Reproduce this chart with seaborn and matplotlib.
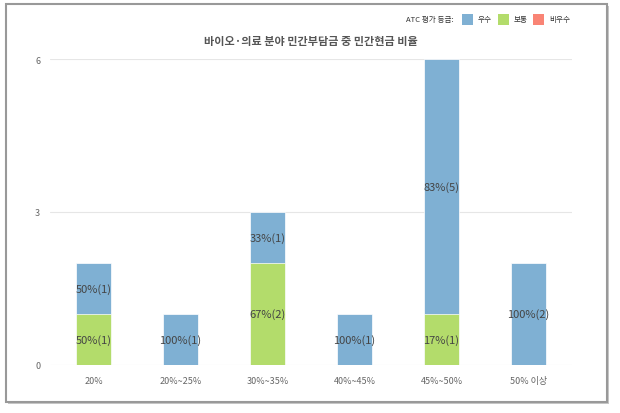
import matplotlib
matplotlib.use("Agg")
import matplotlib.pyplot as plt
import seaborn as sns
import pandas as pd
from matplotlib.patches import Rectangle

categories = ["20%", "20%~25%", "30%~35%", "40%~45%", "45%~50%", "50% 이상"]
excellent = [1, 1, 1, 1, 5, 2]   # 우수
normal = [1, 0, 2, 0, 1, 0]      # 보통
poor = [0, 0, 0, 0, 0, 0]        # 비우수
yticks = [0, 3, 6]
title = "바이오·의료 분야 민간부담금 중 민간현금 비율"
legend_title = "ATC 평가 등급:"
legend_labels = ["우수", "보통", "비우수"]

C_BLUE = "#7fb0d3"
C_GREEN = "#b3dc6b"
C_RED = "#f98475"

sns.set_theme(style="white")
plt.rcParams['font.family'] = ['Noto Sans CJK KR', 'DejaVu Sans']

W, H = 620, 414
fig = plt.figure(figsize=(W / 100, H / 100), dpi=100)
fig.patch.set_facecolor("white")

# frame with shadow
fig.patches.append(Rectangle((8 / W, 1 - 405 / H), 601 / W, 398 / H, transform=fig.transFigure,
                             facecolor="#c8c8c8", edgecolor="none", zorder=-3))
fig.patches.append(Rectangle((6 / W, 1 - 403 / H), 601 / W, 398 / H, transform=fig.transFigure,
                             facecolor="white", edgecolor="#999999", linewidth=1.5, zorder=-2))

ax = fig.add_axes([50 / W, 48 / H, 522 / W, 306 / H])
ax.set_zorder(2)
ax.set_facecolor("none")

df = pd.DataFrame({
    "cat": categories,
    "total": [a + b + c for a, b, c in zip(excellent, normal, poor)],
    "normal": normal,
    "excellent": excellent,
})

sns.barplot(data=df, x="cat", y="total", color=C_BLUE, width=0.4, ax=ax,
            saturation=1, edgecolor="white", linewidth=0.5, zorder=3)
sns.barplot(data=df, x="cat", y="normal", color=C_GREEN, width=0.4, ax=ax,
            saturation=1, edgecolor="white", linewidth=0.5, zorder=4)

for i, (e, n) in enumerate(zip(excellent, normal)):
    tot = e + n
    if n > 0:
        ax.text(i, n / 2, f"{round(n / tot * 100)}%({n})", ha="center", va="center",
                fontsize=8, color="#444444", zorder=5)
    if e > 0:
        ax.text(i, n + e / 2, f"{round(e / tot * 100)}%({e})", ha="center", va="center",
                fontsize=8, color="#444444", zorder=5)

ax.set_ylim(0, 6)
ax.set_xlim(-0.5, len(categories) - 0.5)
ax.set_yticks(yticks)
ax.set_yticklabels([str(t) for t in yticks])
ax.yaxis.grid(True, color="#e6e6e6", linewidth=0.8, zorder=0)
ax.set_axisbelow(True)
for s in ax.spines.values():
    s.set_visible(False)
ax.tick_params(axis="both", length=0, labelsize=6.5, labelcolor="#666666")
ax.tick_params(axis="y", pad=7)
ax.tick_params(axis="x", pad=8)
ax.set_xlabel("")
ax.set_ylabel("")

fig.text(311 / W, 1 - 42 / H, title, ha="center", va="center", fontsize=8,
         fontweight="bold", color="#555555")

# legend
ly = 1 - 20 / H
fig.text(454 / W, ly, legend_title, ha="right", va="center", fontsize=5.5, color="#333333")
sq = 11
for x0, col, lab in [(462, C_BLUE, legend_labels[0]), (498, C_GREEN, legend_labels[1]),
                     (533, C_RED, legend_labels[2])]:
    fig.patches.append(Rectangle((x0 / W, ly - (sq / 2) / H), sq / W, sq / H,
                                 transform=fig.transFigure, facecolor=col, edgecolor="none", zorder=3))
    fig.text((x0 + sq + 5) / W, ly, lab, ha="left", va="center", fontsize=5.5, color="#333333")

fig.savefig("out.png", dpi=100)
